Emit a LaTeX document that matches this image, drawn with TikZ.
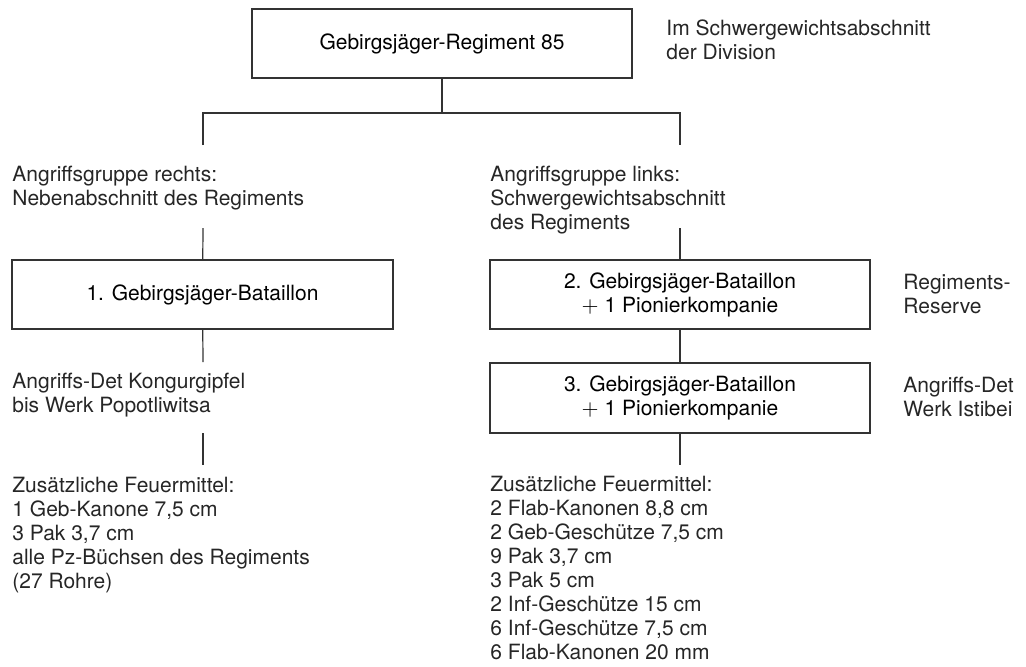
\documentclass[tikz,border=0pt]{standalone}
\usepackage{fontspec}
\setmainfont{TeX Gyre Heros}
\tikzset{
	unitbox/.style={draw=black!80, line width=0.6pt, inner sep=0pt, align=center},
	note/.style={anchor=base west, inner sep=0pt, align=left, text=black!85},
	link/.style={draw=black!80, line width=0.6pt}
}
\begin{document}
\begin{tikzpicture}[x=0.5pt,y=-0.5pt,font=\fontsize{10.5}{12}\selectfont]
	\useasboundingbox (0,0) rectangle (1026,666);
	% Regiment (note positions: baseline of last line)
	\node[unitbox, minimum width=190pt, minimum height=34.5pt] (regt) at (442,43.5) {Gebirgsjäger-Regiment 85};
	\node[note] (regtnote) at (666,59) {Im Schwergewichtsabschnitt\\der Division};
	\coordinate (barM) at (442,113);
	\coordinate (barL) at (203,113);
	\coordinate (barR) at (680,113);
	\coordinate (endL) at (203,145);
	\coordinate (endR) at (680,145);
	\draw[link] (regt) -- (barM);
	\draw[link] (endL) -- (barL) -- (barR) -- (endR);
	% Angriffsgruppe rechts
	\node[note] (grpR) at (12,205) {Angriffsgruppe rechts:\\Nebenabschnitt des Regiments};
	\coordinate (topL) at (203,228);
	\node[unitbox, minimum width=190.5pt, minimum height=34.5pt] (bat1) at (202.5,294.5) {1. Gebirgsjäger-Bataillon};
	\draw[link] (topL) -- (bat1);
	\coordinate (detL) at (203,362);
	\draw[link] (bat1) -- (detL);
	\node[note] (detKong) at (12,412) {Angriffs-Det Kongurgipfel\\bis Werk Popotliwitsa};
	\coordinate (fireLa) at (203,433);
	\coordinate (fireLb) at (203,465);
	\draw[link] (fireLa) -- (fireLb);
	\node[note] (fireL) at (12,588) {Zusätzliche Feuermittel:\\1 Geb-Kanone 7,5 cm\\3 Pak 3,7 cm\\alle Pz-Büchsen des Regiments\\(27 Rohre)};
	% Angriffsgruppe links
	\node[note] (grpLk) at (490,229) {Angriffsgruppe links:\\Schwergewichtsabschnitt\\des Regiments};
	\coordinate (topR) at (680,228);
	\node[unitbox, minimum width=190pt, minimum height=34.5pt] (bat2) at (680,294.5) {2. Gebirgsjäger-Bataillon\\$+$ 1 Pionierkompanie};
	\node[note] (resnote) at (903,313) {Regiments-\\Reserve};
	\node[unitbox, minimum width=190pt, minimum height=35pt] (bat3) at (680,398) {3. Gebirgsjäger-Bataillon\\$+$ 1 Pionierkompanie};
	\node[note] (istnote) at (903,416) {Angriffs-Det\\Werk Istibei};
	\draw[link] (topR) -- (bat2);
	\draw[link] (bat2) -- (bat3);
	\coordinate (fireRb) at (680,465);
	\draw[link] (bat3) -- (fireRb);
	\node[note] (fireR) at (490,659) {Zusätzliche Feuermittel:\\2 Flab-Kanonen 8,8 cm\\2 Geb-Geschütze 7,5 cm\\9 Pak 3,7 cm\\3 Pak 5 cm\\2 Inf-Geschütze 15 cm\\6 Inf-Geschütze 7,5 cm\\6 Flab-Kanonen 20 mm};
\end{tikzpicture}
\end{document}
